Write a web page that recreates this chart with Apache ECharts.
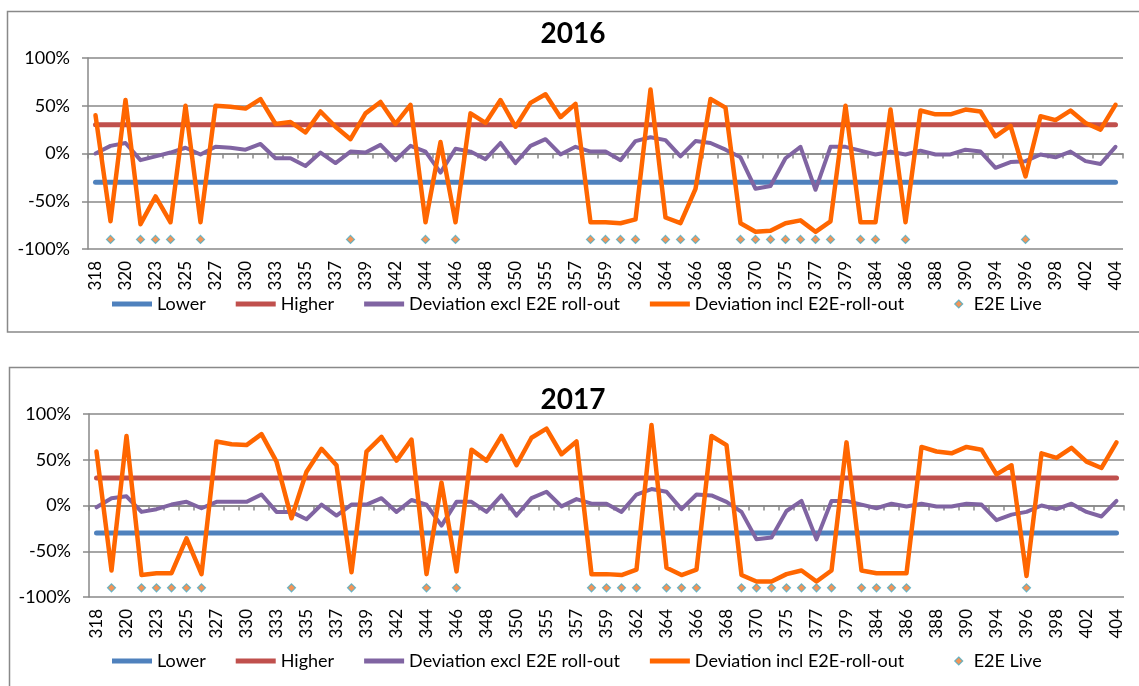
<!DOCTYPE html>
<html>
<head>
<meta charset="utf-8">
<title>Deviation 2016 / 2017</title>
<script src="https://cdn.jsdelivr.net/npm/echarts@6/dist/echarts.min.js"></script>
<style>
    html, body { margin: 0; padding: 0; background: #fff; }
    #chart { width: 1139px; height: 686px; }
</style>
</head>
<body>
<div id="chart"></div>
<script>
// weeks on the x axis (only every other one is labelled)
var weeks = ['318', '319', '320', '322', '323', '324', '325', '326', '327', '329',
    '330', '332', '333', '334', '335', '336', '337', '338', '339', '341',
    '342', '343', '344', '345', '346', '347', '348', '349', '350', '352',
    '355', '356', '357', '358', '359', '361', '362', '363', '364', '365',
    '366', '367', '368', '369', '370', '373', '375', '376', '377', '378',
    '379', '382', '384', '385', '386', '387', '388', '389', '390', '392',
    '394', '395', '396', '397', '398', '400', '402', '403', '404'];

var LOWER_LIMIT = -30;
var HIGHER_LIMIT = 30;
var E2E_LEVEL = -90;

// 2016 (%)
var excl2016 = [0, 8, 11, -7, -3, 1, 6, -1, 7, 6,
    4, 10, -5, -5, -13, 1, -10, 2, 1, 9,
    -7, 8, 2, -20, 5, 2, -6, 11, -10, 8,
    15, -1, 7, 2, 2, -7, 13, 17, 14, -3,
    13, 11, 4, -4, -37, -34, -5, 7, -38, 7,
    7, 3, -1, 2, -1, 3, -1, -1, 4, 2,
    -15, -9, -8, -1, -4, 2, -8, -11, 7];
var incl2016 = [40, -71, 56, -74, -45, -72, 50, -72, 50, 49,
    47, 57, 31, 33, 22, 44, 28, 15, 42, 54,
    31, 51, -72, 12, -72, 42, 32, 56, 28, 53,
    62, 38, 52, -72, -72, -73, -69, 67, -67, -73,
    -37, 57, 48, -73, -82, -81, -73, -70, -82, -71,
    50, -72, -72, 46, -72, 45, 41, 41, 46, 44,
    18, 29, -24, 39, 35, 45, 32, 25, 51];
var live2016 = ['319', '322', '323', '324', '326', '338', '344', '346', '358', '359',
    '361', '362', '364', '365', '366', '369', '370', '373', '375', '376',
    '377', '378', '382', '384', '386', '396'];

// 2017 (%)
var excl2017 = [-2, 8, 10, -7, -4, 1, 4, -3, 4, 4,
    4, 12, -7, -7, -15, 1, -11, 1, 1, 8,
    -7, 6, 1, -22, 4, 4, -7, 11, -11, 8,
    15, -1, 7, 2, 2, -7, 12, 18, 15, -4,
    12, 11, 4, -7, -37, -35, -6, 5, -37, 5,
    5, 1, -3, 2, -1, 2, -1, -1, 2, 1,
    -16, -10, -7, 0, -4, 2, -7, -12, 5];
var incl2017 = [59, -71, 76, -76, -74, -74, -36, -75, 70, 67,
    66, 78, 48, -14, 37, 62, 44, -73, 59, 75,
    49, 72, -75, 25, -72, 61, 49, 76, 44, 74,
    84, 56, 70, -75, -75, -76, -70, 88, -68, -76,
    -70, 76, 66, -76, -83, -83, -75, -71, -83, -71,
    69, -71, -74, -74, -74, 64, 59, 57, 64, 61,
    34, 44, -77, 57, 52, 63, 48, 41, 69];
var live2017 = ['319', '322', '323', '324', '325', '326', '334', '338', '344', '346',
    '358', '359', '361', '362', '364', '365', '366', '369', '370', '373',
    '375', '376', '377', '378', '382', '384', '385', '386', '396'];

var FONT = 'Lato, "Open Sans", sans-serif';
var GRAY = '#898989';
var LINE_ICON = 'path://M0,0H40V5H0Z';
// diamond sitting right of centre in its legend slot
var DIAMOND_ICON = 'path://M0,4L0,4M24,0L28,4L24,8L20,4Z';

var panels = [
    {title: '2016', excl: excl2016, incl: incl2016, live: live2016,
        grid: {left: 88, top: 58, width: 1035, height: 191}, titleTop: 15, legendTop: 290},
    {title: '2017', excl: excl2017, incl: incl2017, live: live2017,
        grid: {left: 89, top: 414, width: 1035, height: 183}, titleTop: 381, legendTop: 647}
];

var option = {
    animation: false,
    textStyle: {fontFamily: FONT, color: '#000'},
    title: [], grid: [], xAxis: [], yAxis: [], legend: [], series: [],
    graphic: [
        {type: 'rect', shape: {x: 7.5, y: 11.5, width: 1140, height: 320.5},
            style: {fill: null, stroke: GRAY, lineWidth: 1.5}, silent: true},
        {type: 'rect', shape: {x: 9.5, y: 367.5, width: 1140, height: 330},
            style: {fill: null, stroke: GRAY, lineWidth: 1.5}, silent: true}
    ]
};

panels.forEach(function (p, k) {
    option.title.push({
        text: p.title, left: 568, top: p.titleTop, textAlign: 'center',
        textStyle: {fontFamily: FONT, fontSize: 28, fontWeight: 'bold', color: '#000'}
    });
    option.grid.push(p.grid);
    // axis drawn at 0% with the ticks
    option.xAxis.push({
        gridIndex: k, type: 'category', data: weeks, boundaryGap: true,
        axisLine: {onZero: true, lineStyle: {color: GRAY, width: 1.5}},
        axisTick: {show: true, interval: 0, length: 5, lineStyle: {color: GRAY, width: 1.5}},
        axisLabel: {show: false}, splitLine: {show: false}
    });
    // labels at the bottom
    option.xAxis.push({
        gridIndex: k, type: 'category', data: weeks, boundaryGap: true, position: 'bottom',
        axisLine: {show: false, onZero: false}, axisTick: {show: false},
        axisLabel: {interval: 1, rotate: 90, margin: 12, fontSize: 17, color: '#000', fontFamily: FONT},
        splitLine: {show: false}
    });
    option.yAxis.push({
        gridIndex: k, type: 'value', min: -100, max: 100, interval: 50,
        axisLine: {show: true, lineStyle: {color: GRAY, width: 1.5}},
        axisTick: {show: true, length: 6, lineStyle: {color: GRAY, width: 1.5}},
        axisLabel: {formatter: '{value}%', fontSize: 18, margin: 18, color: '#000', fontFamily: FONT},
        splitLine: {show: true, lineStyle: {color: GRAY, width: 1.5}}
    });
    option.legend.push({
        left: 107, top: p.legendTop, itemWidth: 40, itemHeight: 8, itemGap: 30,
        textStyle: {fontSize: 18, color: '#000', fontFamily: FONT},
        itemStyle: {borderWidth: 0},
        data: [
            {name: 'Lower', icon: LINE_ICON},
            {name: 'Higher', icon: LINE_ICON},
            {name: 'Deviation excl E2E roll-out', icon: LINE_ICON},
            {name: 'Deviation incl E2E-roll-out', icon: LINE_ICON},
            {name: 'E2E Live', icon: DIAMOND_ICON,
                itemStyle: {borderColor: '#4BACC6', borderWidth: 1.2}}
        ]
    });

    var ax = 2 * k;
    var lineSeries = function (name, data, color, width) {
        return {
            name: name, type: 'line', xAxisIndex: ax, yAxisIndex: k, data: data,
            symbol: 'none', showSymbol: false,
            itemStyle: {color: color},
            lineStyle: {color: color, width: width, cap: 'round', join: 'round'}
        };
    };
    option.series.push(lineSeries('Lower', weeks.map(function () { return LOWER_LIMIT; }), '#4F81BD', 5));
    option.series.push(lineSeries('Higher', weeks.map(function () { return HIGHER_LIMIT; }), '#C0504D', 5));
    option.series.push(lineSeries('Deviation excl E2E roll-out', p.excl, '#8064A2', 4));
    option.series.push(lineSeries('Deviation incl E2E-roll-out', p.incl, '#FF6600', 4.5));
    option.series.push({
        name: 'E2E Live', type: 'scatter', xAxisIndex: ax, yAxisIndex: k,
        data: p.live.map(function (w) { return [w, E2E_LEVEL]; }),
        symbol: 'diamond', symbolSize: 8,
        itemStyle: {color: '#F07A2E', borderColor: '#4BACC6', borderWidth: 1.2}
    });
});

var myChart = echarts.init(document.getElementById('chart'));
myChart.setOption(option);
</script>
</body>
</html>
